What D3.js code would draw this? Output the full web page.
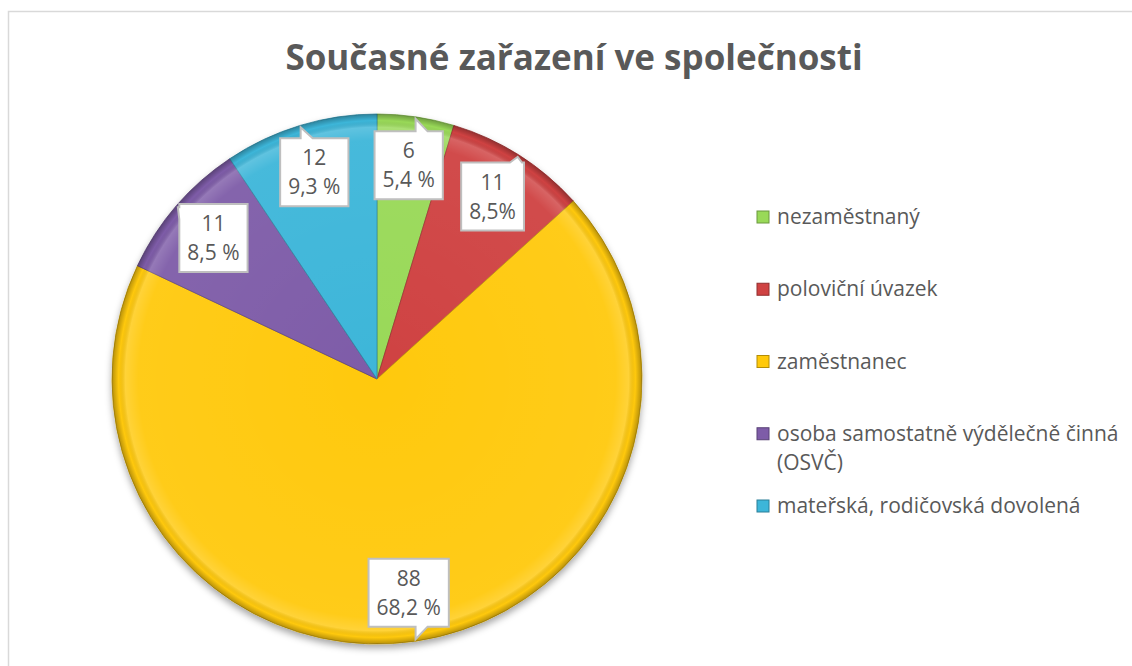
<!DOCTYPE html>
<head>
  <meta charset="utf-8">
  <style>
    body { margin: 0; background: #fff; }
    text { font-family: "Open Sans", "Noto Sans", sans-serif; fill: #595959; }
  </style>
</head>
<body>
<script src="https://cdnjs.cloudflare.com/ajax/libs/d3/7.8.5/d3.min.js"></script>
<script>

// data
var categories = ["nezaměstnaný", "poloviční úvazek", "zaměstnanec", "osoba samostatně výdělečně činná (OSVČ)", "mateřská, rodičovská dovolená"];
var counts = [6, 11, 88, 11, 12];
var percentLabels = ["5,4 %", "8,5%", "68,2 %", "8,5 %", "9,3 %"];
var colours = ["#99d958", "#cf4242", "#ffc90a", "#7e5ca8", "#3db6d9"];
var title = "Současné zařazení ve společnosti";

var W = 1132, H = 666;
var cx = 377, cy = 379, R = 265;

var svg = d3.select("body").append("svg")
    .attr("width", W)
    .attr("height", H);

// chart frame
svg.append("rect")
    .attr("x", 8.5).attr("y", 11.5)
    .attr("width", W).attr("height", H)
    .attr("fill", "#fff")
    .attr("stroke", "#d9d9d9")
    .attr("stroke-width", 1.5);

svg.append("text")
    .attr("x", 574)
    .attr("y", 70)
    .attr("text-anchor", "middle")
    .style("font-size", "35px")
    .style("font-weight", "bold")
    .text(title);

var defs = svg.append("defs");

var shadow = defs.append("filter").attr("id", "shadow")
    .attr("x", "-20%").attr("y", "-20%").attr("width", "140%").attr("height", "140%");
shadow.append("feDropShadow")
    .attr("dx", 0).attr("dy", 4).attr("stdDeviation", 3.5)
    .attr("flood-color", "#000").attr("flood-opacity", 0.35);

// bevel-ish rim
var rim = defs.append("radialGradient").attr("id", "rim")
    .attr("gradientUnits", "userSpaceOnUse")
    .attr("cx", 0).attr("cy", 0).attr("r", R);
[[0, "#fff", 0], [0.9, "#fff", 0.05], [0.95, "#fff", 0.18], [0.975, "#000", 0], [1, "#000", 0.28]]
  .forEach(function(s) {
    rim.append("stop").attr("offset", s[0]).attr("stop-color", s[1]).attr("stop-opacity", s[2]);
  });

var color = d3.scaleOrdinal().domain(categories).range(colours);

var pie = d3.pie().sort(null).value(function(d, i) { return counts[i]; });
var arcs = pie(categories);

var arc = d3.arc().innerRadius(0).outerRadius(R);
var labelArc = d3.arc().innerRadius(216).outerRadius(216);
var tipArc = d3.arc().innerRadius(263).outerRadius(263);

var g = svg.append("g")
    .attr("transform", "translate(" + cx + "," + cy + ")");

var pieG = g.append("g").attr("filter", "url(#shadow)");

pieG.selectAll(".slice")
    .data(arcs)
    .enter().append("path")
    .attr("class", "slice")
    .attr("d", arc)
    .attr("fill", function(d) { return color(d.data); })
    .attr("stroke", function(d) { return d3.color(color(d.data)).darker(0.8); })
    .attr("stroke-width", 0.8);

g.selectAll(".rim")
    .data(arcs)
    .enter().append("path")
    .attr("d", arc)
    .attr("fill", "url(#rim)");

// callout labels
function callout(x0, y0, x1, y1, tx, ty) {
  var over = {
    top: y0 - ty, bottom: ty - y1, left: x0 - tx, right: tx - x1
  };
  var side = Object.keys(over).reduce(function(a, b) { return over[a] >= over[b] ? a : b; });
  var p = [];
  function notch(a, b, fixed, horiz) {
    var c = horiz ? Math.max(Math.min(tx, Math.max(a, b) - 14), Math.min(a, b) + 2)
                  : Math.max(Math.min(ty, Math.max(a, b) - 14), Math.min(a, b) + 2);
    var n1 = c, n2 = c + 12;
    if (a > b) { n1 = c + 12; n2 = c; }
    if (horiz) return [[n1, fixed], [tx, ty], [n2, fixed]];
    return [[fixed, n1], [tx, ty], [fixed, n2]];
  }
  p.push([x0, y0]);
  if (side === "top") p = p.concat(notch(x0, x1, y0, true));
  p.push([x1, y0]);
  if (side === "right") p = p.concat(notch(y0, y1, x1, false));
  p.push([x1, y1]);
  if (side === "bottom") p = p.concat(notch(x1, x0, y1, true));
  p.push([x0, y1]);
  if (side === "left") p = p.concat(notch(y1, y0, x0, false));
  return "M" + p.map(function(q) { return q[0] + "," + q[1]; }).join("L") + "Z";
}

var labels = g.selectAll(".lab")
    .data(arcs)
    .enter().append("g")
    .attr("class", "lab");

labels.each(function(d, i) {
  var el = d3.select(this);
  var c = labelArc.centroid(d);
  var t = tipArc.centroid(d);
  var box = el.append("path");
  var txt = el.append("text")
      .attr("text-anchor", "middle")
      .style("font-size", "21px");
  txt.append("tspan").attr("x", c[0]).attr("y", c[1] - 7).text(counts[i]);
  txt.append("tspan").attr("x", c[0]).attr("y", c[1] + 22).text(percentLabels[i]);
  var w = txt.node().getBBox().width + 16;
  var h = 68;
  var x0 = c[0] - w / 2, y0 = c[1] - 34;
  box.attr("d", callout(x0, y0, x0 + w, y0 + h, t[0], t[1]))
    .attr("fill", "#fff")
    .attr("stroke", "#bfbfbf")
    .attr("stroke-width", 2)
    .attr("stroke-linejoin", "miter");
});

// legend
var ly = d3.scalePoint().domain(categories).range([224, 513]);

var leg = svg.append("g").selectAll(".leg")
    .data(categories)
    .enter().append("g")
    .attr("class", "leg")
    .attr("transform", function(d) { return "translate(757," + ly(d) + ")"; });

leg.append("rect")
    .attr("x", 0).attr("y", -13)
    .attr("width", 12).attr("height", 12)
    .attr("fill", function(d) { return color(d); })
    .attr("stroke", function(d) { return d3.color(color(d)).darker(1); })
    .attr("stroke-width", 1);

leg.append("text")
    .attr("x", 20)
    .attr("y", 0)
    .style("font-size", "21px")
    .each(function(d) {
      var el = d3.select(this);
      var words = d.split(" ");
      var line = [];
      var ts = el.append("tspan").attr("x", 20).attr("dy", 0);
      words.forEach(function(wd) {
        line.push(wd);
        ts.text(line.join(" "));
        if (ts.node().getComputedTextLength() > 360 && line.length > 1) {
          line.pop();
          ts.text(line.join(" "));
          line = [wd];
          ts = el.append("tspan").attr("x", 20).attr("dy", 29).text(wd);
        }
      });
    });

</script>
</body>
